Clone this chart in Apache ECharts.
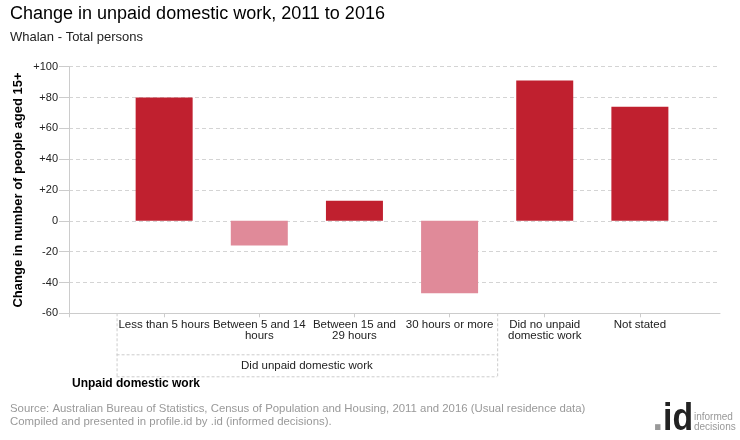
<!DOCTYPE html>
<html>
<head>
<meta charset="utf-8">
<script src="https://cdn.jsdelivr.net/npm/echarts@6/dist/echarts.min.js"></script>
<style>
html,body{margin:0;padding:0;background:#fff;}
#c{width:740px;height:440px;}
</style>
</head>
<body>
<div id="c"></div>
<script>
var categories = ['Less than 5 hours', 'Between 5 and 14\nhours', 'Between 15 and\n29 hours', '30 hours or more', 'Did no unpaid\ndomestic work', 'Not stated'];
var values = [80, -16, 13, -47, 91, 74];
var groupLabel = 'Did unpaid domestic work';
var groupSpan = [0, 3];
var yTicks = { min: -60, max: 100, interval: 20 };

var FONT = '"Liberation Sans", Arial, sans-serif';
var chart = echarts.init(document.getElementById('c'), null, { renderer: 'canvas' });

var barData = values.map(function (v, i) {
  return { value: [i, v], itemStyle: { color: v >= 0 ? '#C0202F' : '#E08A99' } };
});

var option = {
  animation: false,
  textStyle: { fontFamily: FONT },
  title: [
    { text: 'Change in unpaid domestic work, 2011 to 2016', left: 10, top: 5, padding: 0,
      textStyle: { fontFamily: FONT, fontSize: 18, fontWeight: 'normal', color: '#000' } },
    { text: 'Whalan - Total persons', left: 10, top: 31, padding: 0,
      textStyle: { fontFamily: FONT, fontSize: 13, fontWeight: 'normal', color: '#222' } }
  ],
  grid: { left: 69, right: 20, top: 66.7, bottom: 440 - 313.3, containLabel: false, outerBoundsMode: 'none' },
  xAxis: {
    type: 'value', min: -1, max: 5.842, interval: 1,
    axisLine: { show: true, onZero: false, lineStyle: { color: '#cccccc', width: 1 } },
    axisTick: { show: true, length: 4, lineStyle: { color: '#cccccc' } },
    splitLine: { show: false },
    axisLabel: {
      margin: 6, color: '#222', fontSize: 11.5, fontFamily: FONT, lineHeight: 11,
      showMaxLabel: false,
      formatter: function (v) { var i = Math.round(v); return (i >= 0 && i < categories.length) ? categories[i] : ''; }
    }
  },
  yAxis: {
    type: 'value', min: yTicks.min, max: yTicks.max, interval: yTicks.interval,
    name: 'Change in number of people aged 15+', nameLocation: 'middle', nameGap: 44.5, nameRotate: 90,
    nameMoveOverlap: false,
    nameTextStyle: { fontFamily: FONT, fontSize: 13, fontWeight: 'bold', color: '#000' },
    axisLine: { show: true, onZero: false, lineStyle: { color: '#cccccc' } },
    axisTick: { show: true, length: 10, lineStyle: { color: '#cccccc' } },
    splitLine: { show: true, lineStyle: { color: '#d4d4d4', type: [4, 3] } },
    axisLabel: {
      margin: 11, color: '#222', fontSize: 11, fontFamily: FONT,
      formatter: function (v) { return v > 0 ? '+' + v : String(v); }
    }
  },
  series: [{
    type: 'bar', data: barData, barWidth: 57
  }]
};
chart.setOption(option);

// group box under category labels
var x0 = chart.convertToPixel({ xAxisIndex: 0 }, groupSpan[0] - 0.5);
var x1 = chart.convertToPixel({ xAxisIndex: 0 }, groupSpan[1] + 0.5);
var yAx = chart.convertToPixel({ yAxisIndex: 0 }, yTicks.min);
var yMid = yAx + 41, yBot = yAx + 63;
var dashed = { stroke: '#cccccc', lineWidth: 1, lineDash: [3, 2] };
chart.setOption({
  graphic: [
    { type: 'line', shape: { x1: x0 + 0.5, y1: yAx, x2: x0 + 0.5, y2: yBot }, style: dashed, silent: true },
    { type: 'line', shape: { x1: x1 + 0.5, y1: yAx, x2: x1 + 0.5, y2: yBot }, style: dashed, silent: true },
    { type: 'line', shape: { x1: x0, y1: yMid + 0.5, x2: x1, y2: yMid + 0.5 }, style: dashed, silent: true },
    { type: 'line', shape: { x1: x0, y1: yBot + 0.5, x2: x1, y2: yBot + 0.5 }, style: dashed, silent: true },
    { type: 'text', x: (x0 + x1) / 2, y: (yMid + yBot) / 2 + 1,
      style: { text: groupLabel, fill: '#222', font: '11.5px ' + FONT, textAlign: 'center', textVerticalAlign: 'middle' } },
    { type: 'text', x: 72, y: 383.5,
      style: { text: 'Unpaid domestic work', fill: '#000', font: 'bold 12px ' + FONT, textAlign: 'left', textVerticalAlign: 'middle' } },
    { type: 'text', x: 10, y: 409,
      style: { text: 'Source: Australian Bureau of Statistics, Census of Population and Housing, 2011 and 2016 (Usual residence data)', fill: '#999', font: '11.4px ' + FONT, textVerticalAlign: 'middle' } },
    { type: 'text', x: 10, y: 422,
      style: { text: 'Compiled and presented in profile.id by .id (informed decisions).', fill: '#999', font: '11.4px ' + FONT, textVerticalAlign: 'middle' } },
    { type: 'text', x: 663, y: 419.5,
      style: { text: '.', fill: '#999', font: 'bold 38px ' + FONT, textAlign: 'right', textVerticalAlign: 'middle' } },
    { type: 'text', x: 663, y: 419.5, scaleX: 0.89, scaleY: 1,
      style: { text: 'id', fill: '#222', font: 'bold 38px ' + FONT, textAlign: 'left', textVerticalAlign: 'middle' } },
    { type: 'text', x: 694, y: 417.5,
      style: { text: 'informed', fill: '#999', font: '10px ' + FONT, textVerticalAlign: 'middle' } },
    { type: 'text', x: 694, y: 427.5,
      style: { text: 'decisions', fill: '#999', font: '10px ' + FONT, textVerticalAlign: 'middle' } }
  ]
});
</script>
</body>
</html>
